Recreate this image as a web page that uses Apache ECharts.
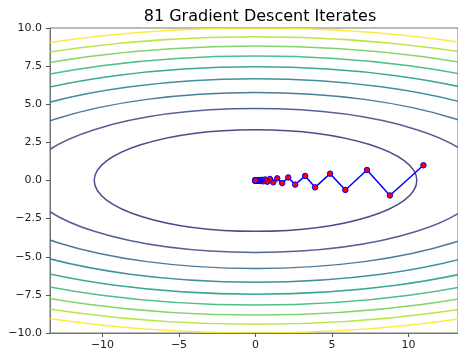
<!DOCTYPE html>
<html>
<head>
<meta charset="utf-8">
<script src="https://cdn.jsdelivr.net/npm/echarts@6/dist/echarts.min.js"></script>
<style>
  html, body { margin: 0; padding: 0; background: #fff; }
  #chart { width: 458px; height: 353px; }
</style>
</head>
<body>
<div id="chart"></div>
<script>
// contour levels of f(x, y) = x^2 + 10 y^2
const levels = [111.1, 222.2, 333.3, 444.4, 555.6, 666.7, 777.8, 888.9, 1000];
const yWeight = 10;
const levelColors = ['#472a7a', '#3e4a89', '#31688e', '#26828e', '#1f9a8a', '#35b779', '#6ece58', '#b5de2b', '#fde725'];

// iterates
const iterX = [10.97, 8.78, 7.28, 5.87, 4.87, 3.89, 3.24, 2.59, 2.14, 1.74,
    1.42, 1.16, 0.94, 0.77, 0.63, 0.51, 0.42, 0.34, 0.28, 0.23,
    0.18, 0.15, 0.12, 0.10, 0.08, 0.067, 0.054, 0.044, 0.036, 0.029,
    0.024, 0.02, 0.016, 0.013, 0.011, 0.009, 0.007, 0.006, 0.005, 0.004,
    0.003, 0.003, 0.002, 0.002, 0.001, 0.001, 0.001, 0.001, 0, 0,
    0, 0, 0, 0, 0, 0, 0, 0, 0, 0,
    0, 0, 0, 0, 0, 0, 0, 0, 0, 0,
    0, 0, 0, 0, 0, 0, 0, 0, 0, 0, 0];
const iterY = [1.00, -0.98, 0.69, -0.62, 0.45, -0.45, 0.30, -0.27, 0.20, -0.17,
    0.14, -0.12, 0.10, -0.08, 0.066, -0.055, 0.045, -0.037, 0.031, -0.026,
    0.021, -0.018, 0.015, -0.012, 0.010, -0.008, 0.007, -0.006, 0.005, -0.004,
    0.003, -0.003, 0.002, -0.002, 0.002, -0.001, 0.001, -0.001, 0.001, 0,
    0, 0, 0, 0, 0, 0, 0, 0, 0, 0,
    0, 0, 0, 0, 0, 0, 0, 0, 0, 0,
    0, 0, 0, 0, 0, 0, 0, 0, 0, 0,
    0, 0, 0, 0, 0, 0, 0, 0, 0, 0, 0];

const xTicks = [-10, -5, 0, 5, 10];
const yTicks = [-10, -7.5, -5, -2.5, 0, 2.5, 5, 7.5, 10];

const minus = v => String(v).replace('-', '\u2212');
const font = 'DejaVu Sans';

const chart = echarts.init(document.getElementById('chart'));

const option = {
    animation: false,
    title: {
        text: '81 Gradient Descent Iterates',
        left: 255,
        textAlign: 'center',
        top: 4,
        textStyle: { fontFamily: font, fontSize: 16, fontWeight: 'normal', color: '#000' }
    },
    grid: {
        left: 50, right: -1, top: 28, bottom: 20,
        show: true, borderColor: '#777', borderWidth: 1
    },
    xAxis: {
        type: 'value',
        min: -13.43, max: 13.23,
        splitLine: { show: false },
        axisLine: { onZero: false, lineStyle: { color: '#777' } },
        axisTick: { customValues: xTicks, length: 4, lineStyle: { color: '#555' } },
        axisLabel: {
            customValues: xTicks, formatter: v => minus(v),
            fontFamily: font, fontSize: 11, color: '#222', margin: 7
        }
    },
    yAxis: {
        type: 'value',
        min: -10, max: 10,
        splitLine: { show: false },
        axisLine: { onZero: false, lineStyle: { color: '#777' } },
        axisTick: { customValues: yTicks, length: 4, lineStyle: { color: '#555' } },
        axisLabel: {
            customValues: yTicks, formatter: v => minus(v.toFixed(1)),
            fontFamily: font, fontSize: 11, color: '#222', margin: 8
        }
    },
    series: [
        {
            type: 'custom',
            clip: true,
            silent: true,
            data: levels.map(l => [l]),
            encode: { x: -1, y: -1 },
            renderItem: (params, api) => {
                const L = api.value(0);
                const c = api.coord([0, 0]);
                const s = api.size([Math.sqrt(L), Math.sqrt(L / yWeight)]);
                return {
                    type: 'ellipse',
                    shape: { cx: c[0], cy: c[1], rx: s[0], ry: s[1] },
                    style: {
                        fill: 'none', stroke: levelColors[params.dataIndex],
                        lineWidth: 1.5, opacity: 0.88
                    }
                };
            },
            z: 1
        },
        {
            type: 'line',
            data: iterX.map((x, i) => [x, iterY[i]]),
            symbol: 'circle',
            symbolSize: 5.5,
            showAllSymbol: true,
            lineStyle: { color: '#0000ff', width: 1.5 },
            itemStyle: { color: '#ff0000', borderColor: '#0000ff', borderWidth: 1 },
            z: 3
        }
    ]
};

chart.setOption(option);
</script>
</body>
</html>
